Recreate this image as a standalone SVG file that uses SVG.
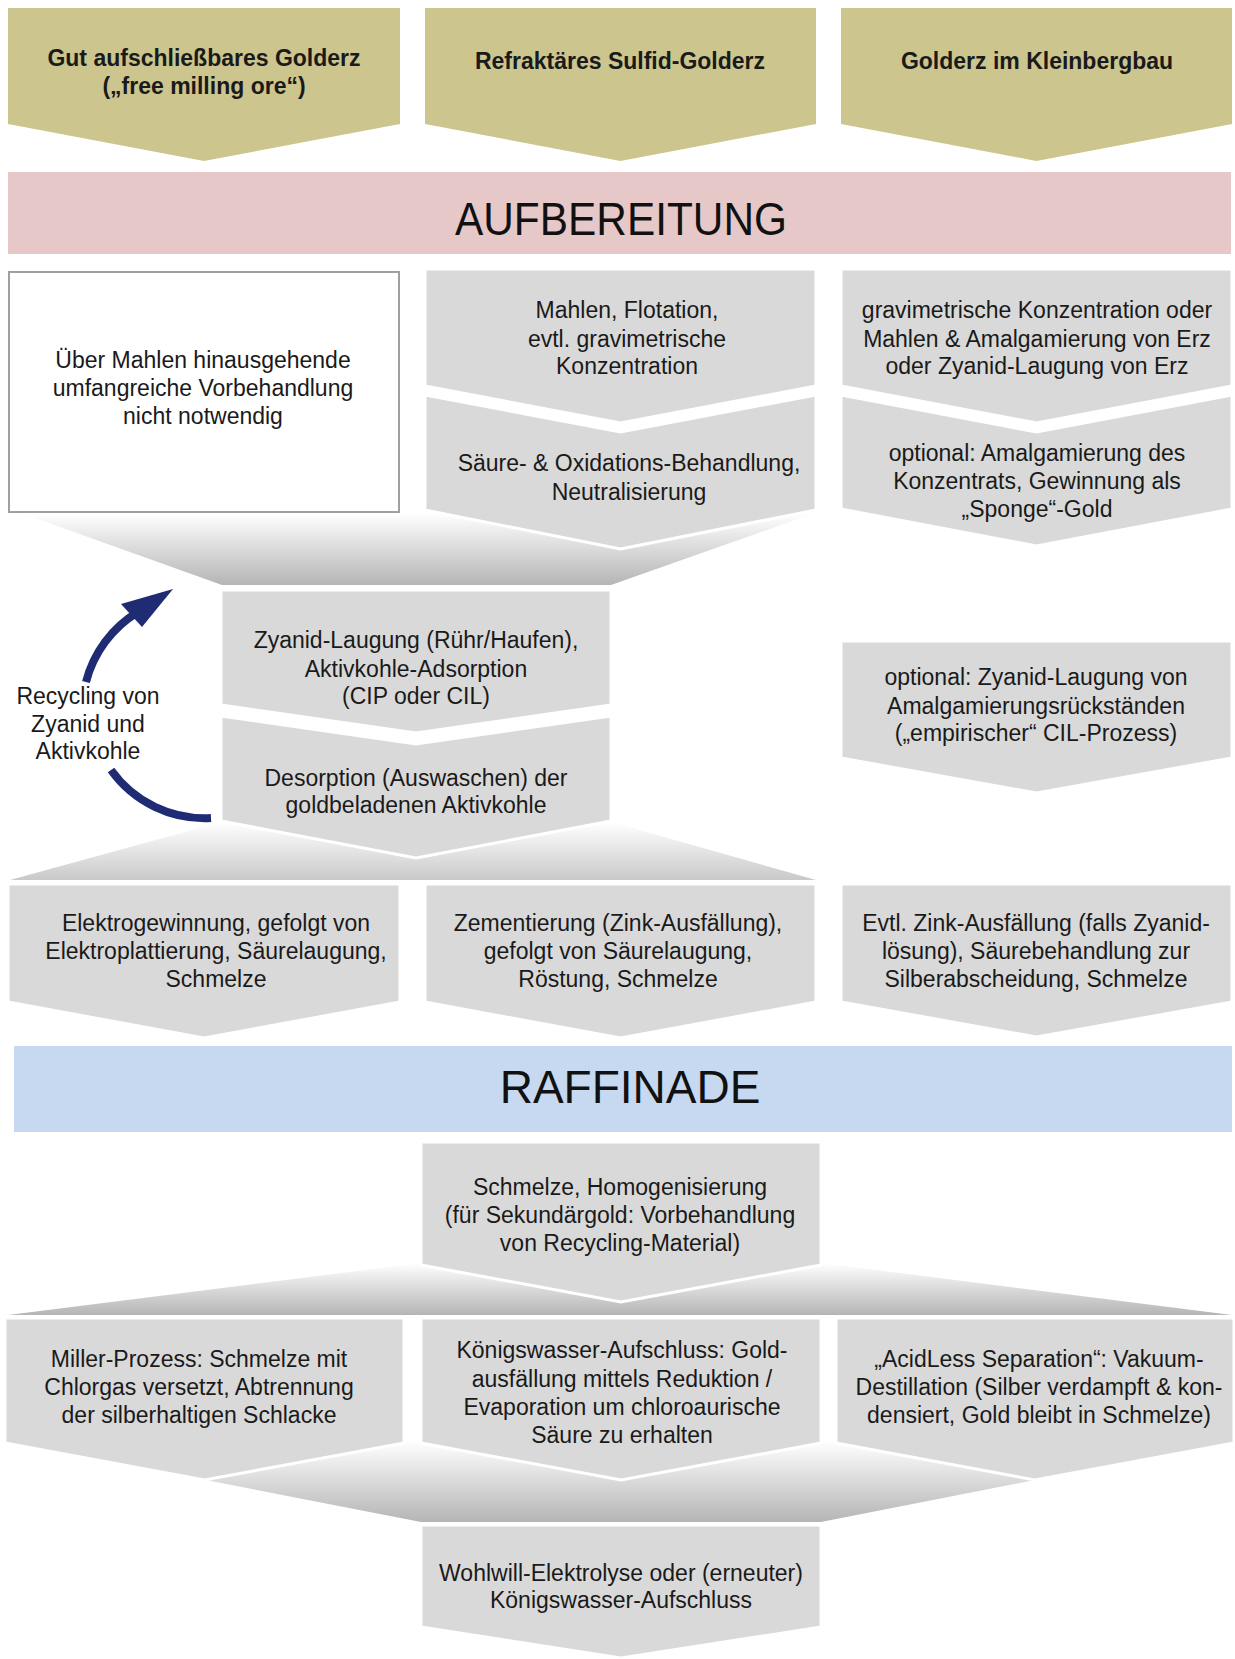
<svg xmlns="http://www.w3.org/2000/svg" width="1235" height="1659" viewBox="0 0 1235 1659">
<defs>
<style>
.t{font-family:"Liberation Sans",Arial,sans-serif;font-size:23px;fill:#1a1a1a;text-anchor:middle}
.b{font-weight:bold}
.h{font-family:"Liberation Sans",Arial,sans-serif;font-size:46px;fill:#111;text-anchor:middle}
.gold{fill:#CCC58E}
.gray{fill:#D9D9D9;stroke:#fff;stroke-width:3;stroke-linejoin:miter}
.fun{stroke:none}
.rc{fill:none;stroke:#1F2C73;stroke-width:8}
</style>
<linearGradient id="gDown" x1="0" y1="0" x2="0" y2="1">
<stop offset="0" stop-color="#FFFFFF"/>
<stop offset="1" stop-color="#B5B5B5"/>
</linearGradient>
<linearGradient id="gLight" x1="0" y1="0" x2="0" y2="1">
<stop offset="0" stop-color="#FFFFFF"/>
<stop offset="1" stop-color="#C9C9C9"/>
</linearGradient>
</defs>
<rect width="1235" height="1659" fill="#fff"/>

<g id="connectors">
<polygon class="fun" fill="url(#gDown)" points="21,513 815,513 611,585 222,585"/>
<polygon class="fun" fill="url(#gLight)" points="221,822 611,822 816,880 10,880"/>
<polygon class="fun" fill="url(#gDown)" points="421,1263 821,1263 1232,1315 8,1315"/>
<polygon class="fun" fill="url(#gDown)" points="5,1441 1234,1441 821,1522 421,1522"/>
<path class="rc" d="M86,682 A115,115 0 0 1 138,612"/>
<polygon fill="#1F2C73" points="173,589 121,604 142,627"/>
<path class="rc" d="M111,770 A115,115 0 0 0 211,818"/>
</g>

<g id="src1"><polygon class="gold" points="8,8 400,8 400,124 204,161 8,124"/>
<text class="t b" x="204" y="66">Gut aufschließbares Golderz</text>
<text class="t b" x="204" y="94">(„free milling ore“)</text></g>
<g id="src2"><polygon class="gold" points="425,8 816,8 816,124 620.5,161 425,124"/>
<text class="t b" x="620" y="69">Refraktäres Sulfid-Golderz</text></g>
<g id="src3"><polygon class="gold" points="841,8 1232,8 1232,124 1036.5,161 841,124"/>
<text class="t b" x="1037" y="69">Golderz im Kleinbergbau</text></g>

<g id="aufbereitung"><rect x="8" y="172" width="1223" height="82" fill="#E6C8C9"/>
<text class="h" x="621" y="235" textLength="332" lengthAdjust="spacingAndGlyphs">AUFBEREITUNG</text></g>

<g id="a1"><rect x="9" y="272" width="390" height="240" fill="#fff" stroke="#A0A0A0" stroke-width="2"/>
<text class="t" x="203" y="368">Über Mahlen hinausgehende</text>
<text class="t" x="203" y="396">umfangreiche Vorbehandlung</text>
<text class="t" x="203" y="424">nicht notwendig</text></g>

<g id="a2"><polygon class="gray" points="425,269 816,269 816,386 620.5,423 425,386"/>
<text class="t" x="627" y="318">Mahlen, Flotation,</text>
<text class="t" x="627" y="347">evtl. gravimetrische</text>
<text class="t" x="627" y="374">Konzentration</text></g>
<g id="a3"><polygon class="gray" points="425,395 620.5,432 816,395 816,510 620.5,549 425,510"/>
<text class="t" x="629" y="471">Säure- &amp; Oxidations-Behandlung,</text>
<text class="t" x="629" y="500">Neutralisierung</text></g>

<g id="a4"><polygon class="gray" points="841,269 1232,269 1232,386 1036.5,423 841,386"/>
<text class="t" x="1037" y="318">gravimetrische Konzentration oder</text>
<text class="t" x="1037" y="347">Mahlen &amp; Amalgamierung von Erz</text>
<text class="t" x="1037" y="374">oder Zyanid-Laugung von Erz</text></g>
<g id="a5"><polygon class="gray" points="841,395 1036.5,432 1232,395 1232,509 1036.5,546 841,509"/>
<text class="t" x="1037" y="461">optional: Amalgamierung des</text>
<text class="t" x="1037" y="489">Konzentrats, Gewinnung als</text>
<text class="t" x="1037" y="517">„Sponge“-Gold</text></g>

<g id="z1"><polygon class="gray" points="221,590 611,590 611,705 416,733 221,705"/>
<text class="t" x="416" y="648">Zyanid-Laugung (Rühr/Haufen),</text>
<text class="t" x="416" y="677">Aktivkohle-Adsorption</text>
<text class="t" x="416" y="704">(CIP oder CIL)</text></g>
<g id="z2"><polygon class="gray" points="221,716 416,744 611,716 611,821 416,858 221,821"/>
<text class="t" x="416" y="786">Desorption (Auswaschen) der</text>
<text class="t" x="416" y="813">goldbeladenen Aktivkohle</text></g>

<g id="recycling">
<text class="t" x="88" y="704">Recycling von</text>
<text class="t" x="88" y="732">Zyanid und</text>
<text class="t" x="88" y="759">Aktivkohle</text></g>

<g id="a6"><polygon class="gray" points="841,641 1232,641 1232,758 1036.5,793 841,758"/>
<text class="t" x="1036" y="685">optional: Zyanid-Laugung von</text>
<text class="t" x="1036" y="714">Amalgamierungsrückständen</text>
<text class="t" x="1036" y="741">(„empirischer“ CIL-Prozess)</text></g>

<g id="r1"><polygon class="gray" points="8,884 400,884 400,1002 204,1038 8,1002"/>
<text class="t" x="216" y="931">Elektrogewinnung, gefolgt von</text>
<text class="t" x="216" y="959">Elektroplattierung, Säurelaugung,</text>
<text class="t" x="216" y="987">Schmelze</text></g>
<g id="r2"><polygon class="gray" points="425,884 816,884 816,1002 620.5,1038 425,1002"/>
<text class="t" x="618" y="931">Zementierung (Zink-Ausfällung),</text>
<text class="t" x="618" y="959">gefolgt von Säurelaugung,</text>
<text class="t" x="618" y="987">Röstung, Schmelze</text></g>
<g id="r3"><polygon class="gray" points="841,884 1232,884 1232,1002 1036.5,1037 841,1002"/>
<text class="t" x="1036" y="931">Evtl. Zink-Ausfällung (falls Zyanid-</text>
<text class="t" x="1036" y="959">lösung), Säurebehandlung zur</text>
<text class="t" x="1036" y="987">Silberabscheidung, Schmelze</text></g>

<g id="raffinade"><rect x="14" y="1046" width="1218" height="86" fill="#C6D9F0"/>
<text class="h" x="630" y="1103">RAFFINADE</text></g>

<g id="f1"><polygon class="gray" points="421,1142 821,1142 821,1265 621,1302 421,1265"/>
<text class="t" x="620" y="1195">Schmelze, Homogenisierung</text>
<text class="t" x="620" y="1223">(für Sekundärgold: Vorbehandlung</text>
<text class="t" x="620" y="1251">von Recycling-Material)</text></g>

<g id="f2"><polygon class="gray" points="5,1318 404,1318 404,1443 204.5,1480 5,1443"/>
<text class="t" x="199" y="1367">Miller-Prozess: Schmelze mit</text>
<text class="t" x="199" y="1395">Chlorgas versetzt, Abtrennung</text>
<text class="t" x="199" y="1423">der silberhaltigen Schlacke</text></g>
<g id="f3"><polygon class="gray" points="421,1318 821,1318 821,1443 621,1480 421,1443"/>
<text class="t" x="622" y="1358">Königswasser-Aufschluss: Gold-</text>
<text class="t" x="622" y="1387">ausfällung mittels Reduktion /</text>
<text class="t" x="622" y="1415">Evaporation um chloroaurische</text>
<text class="t" x="622" y="1443">Säure zu erhalten</text></g>
<g id="f4"><polygon class="gray" points="836,1318 1234,1318 1234,1443 1035,1480 836,1443"/>
<text class="t" x="1039" y="1367">„AcidLess Separation“: Vakuum-</text>
<text class="t" x="1039" y="1395">Destillation (Silber verdampft &amp; kon-</text>
<text class="t" x="1039" y="1423">densiert, Gold bleibt in Schmelze)</text></g>

<g id="f5"><polygon class="gray" points="421,1525 821,1525 821,1627 621,1658 421,1627"/>
<text class="t" x="621" y="1581">Wohlwill-Elektrolyse oder (erneuter)</text>
<text class="t" x="621" y="1608">Königswasser-Aufschluss</text></g>
</svg>
